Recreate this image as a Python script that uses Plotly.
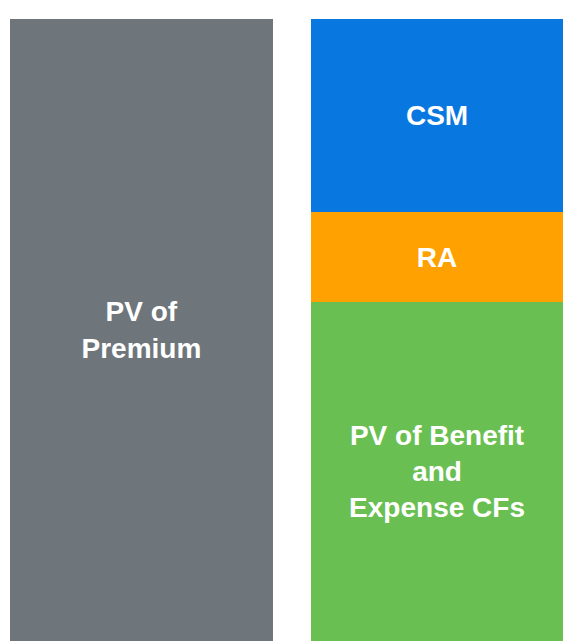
import plotly.graph_objects as go

# Data (relative amounts, premium = 100)
columns = ["Premium", "Liabilities"]
premium_value = [100.0]
benefit_value = [54.5]
ra_value = [14.4]
csm_value = [31.1]

premium_label = "PV of<br>Premium"
benefit_label = "PV of Benefit<br>and<br>Expense CFs"
ra_label = "RA"
csm_label = "CSM"

GRAY = "#6e767c"
GREEN = "#6abf52"
ORANGE = "#ffa100"
BLUE = "#0878e0"

font = dict(family="Liberation Sans, Arial, sans-serif", size=28, color="white")

def seg(x, y, label, color, offset, width):
    return go.Bar(
        x=x, y=y, text=[f"<b>{label}</b>"], marker=dict(color=color, line=dict(width=0)),
        textposition="inside", insidetextanchor="middle", textangle=0,
        insidetextfont=font, constraintext="none", offset=offset, width=width,
        hoverinfo="skip", showlegend=False,
    )

fig = go.Figure()
fig.add_trace(seg([columns[0]], premium_value, premium_label, GRAY, -0.466, 0.933))
fig.add_trace(seg([columns[1]], benefit_value, benefit_label, GREEN, -0.399, 0.892))
fig.add_trace(seg([columns[1]], ra_value, ra_label, ORANGE, -0.399, 0.892))
fig.add_trace(seg([columns[1]], csm_value, csm_label, BLUE, -0.399, 0.892))

fig.update_layout(
    barmode="stack",
    width=565, height=641,
    margin=dict(l=0, r=0, t=19, b=0),
    paper_bgcolor="white", plot_bgcolor="white",
    xaxis=dict(visible=False, range=[-0.5, 1.5], type="category", fixedrange=True),
    yaxis=dict(visible=False, range=[0, 100], fixedrange=True),
    uniformtext=dict(mode=False),
    hovermode=False,
)
fig.write_html(
    "out.html",
    config={"displayModeBar": False, "staticPlot": True},
    post_script="document.body.style.margin='0';document.body.style.overflow='hidden';",
)
